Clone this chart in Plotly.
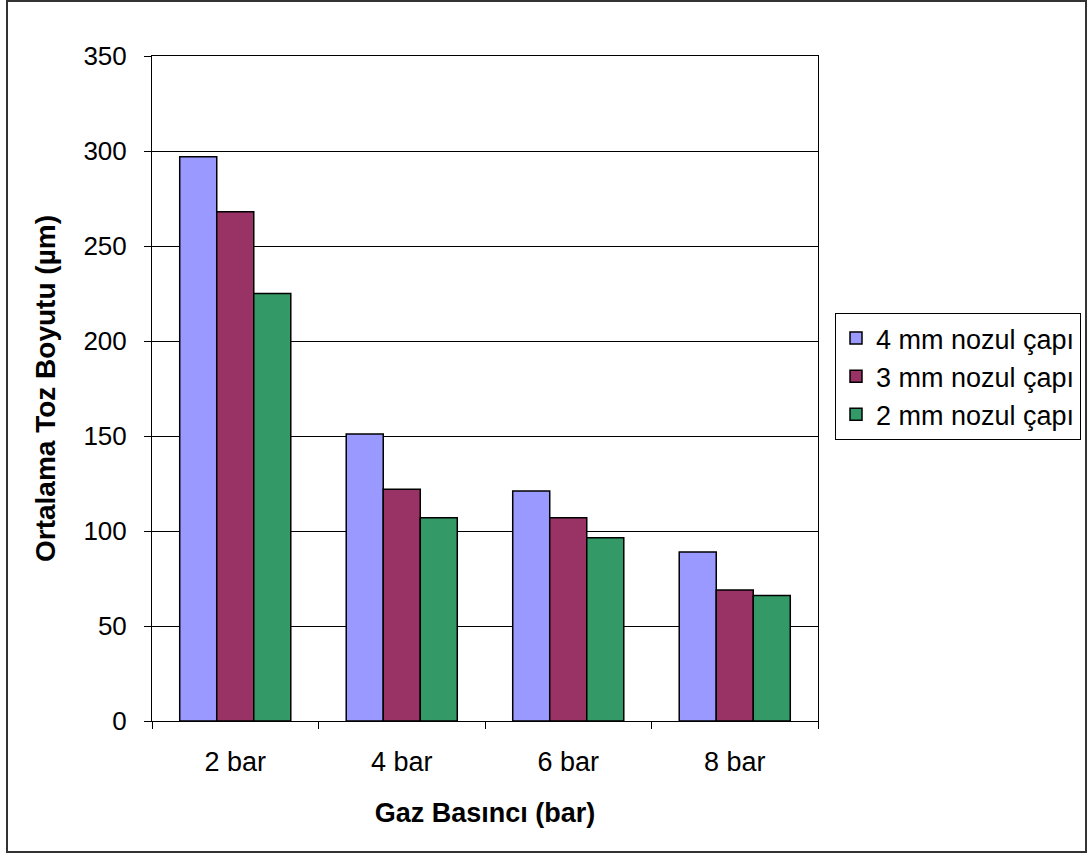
import plotly.graph_objects as go

# Gas pressure categories and mean powder size (µm) per nozzle diameter
pressures = ["2 bar", "4 bar", "6 bar", "8 bar"]
nozzle_4mm = [297, 151, 121, 89]
nozzle_3mm = [268, 122, 107, 69]
nozzle_2mm = [225, 107, 96.5, 66]

series_names = ["4 mm nozul çapı", "3 mm nozul çapı", "2 mm nozul çapı"]
series_colors = ["#9999FF", "#993366", "#339966"]

y_ticks = [0, 50, 100, 150, 200, 250, 300, 350]

FONT = "Liberation Sans, Arial, sans-serif"

fig = go.Figure()
for name, vals, color in zip(series_names, [nozzle_4mm, nozzle_3mm, nozzle_2mm], series_colors):
    fig.add_trace(go.Bar(
        x=pressures, y=vals, name=name,
        marker=dict(color=color, line=dict(color="black", width=1.5)),
    ))

W, H = 1089, 856
L, R, T, B = 152, 818, 56, 721
pw, ph = R - L, B - T

def px_x(px):
    return (px - L) / pw

def px_y(py):
    return (B - py) / ph

fig.update_layout(
    width=W, height=H,
    margin=dict(l=L, r=W - R, t=T, b=H - B, autoexpand=False),
    paper_bgcolor="white", plot_bgcolor="white",
    barmode="group", bargap=0.333, bargroupgap=0,
    font=dict(family=FONT, size=27, color="black"),
    showlegend=True,
    legend=dict(
        x=px_x(835), y=px_y(313), xanchor="left", yanchor="top",
        bordercolor="black", borderwidth=1, bgcolor="white",
        font=dict(family=FONT, size=27, color="black"),
        tracegroupgap=0, itemwidth=30,
    ),
    xaxis=dict(
        showline=True, linecolor="black", linewidth=1, mirror=True,
        ticks="outside", ticklen=7, tickcolor="black", tickson="boundaries",
        tickfont=dict(family=FONT, size=27),
        ticklabelstandoff=17,
        title=dict(text="<b>Gaz Basıncı (bar)</b>", font=dict(family=FONT, size=27), standoff=26),
    ),
    yaxis=dict(
        range=[0, 350], tickvals=y_ticks,
        showline=True, linecolor="black", linewidth=1, mirror=True,
        showgrid=True, gridcolor="black", gridwidth=1,
        ticks="outside", ticklen=7, tickcolor="black",
        tickfont=dict(family=FONT, size=26),
        ticklabelstandoff=12,
        zeroline=False,
        title=dict(text="<b>Ortalama Toz Boyutu (µm)</b>", font=dict(family=FONT, size=28), standoff=19),
    ),
    shapes=[dict(
        type="rect", xref="paper", yref="paper",
        x0=px_x(7), x1=px_x(1086), y0=px_y(852), y1=px_y(1),
        line=dict(color="#333333", width=2), fillcolor="rgba(0,0,0,0)",
        layer="below",
    )],
)

fig.write_html("out.html")
